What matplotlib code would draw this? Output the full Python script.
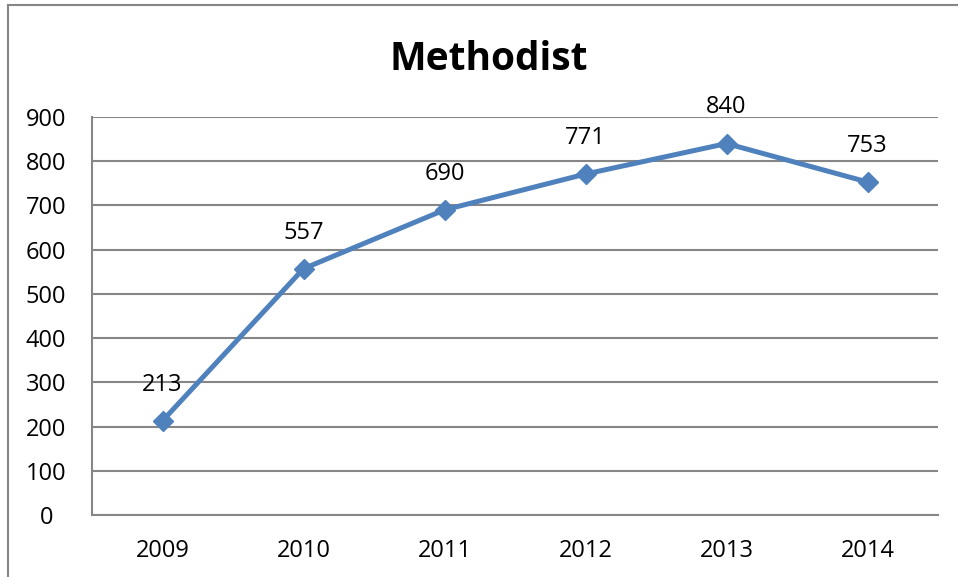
import matplotlib.pyplot as plt
from matplotlib.lines import Line2D

years = ["2009", "2010", "2011", "2012", "2013", "2014"]
values = [213, 557, 690, 771, 840, 753]
yticks = [0, 100, 200, 300, 400, 500, 600, 700, 800, 900]

plt.rcParams["font.family"] = ["Open Sans", "DejaVu Sans"]

fig = plt.figure(figsize=(9.58, 5.77), dpi=100)
ax = fig.add_axes([92 / 958, 1 - 515 / 577, (938 - 92) / 958, (515 - 117) / 577])

x = list(range(len(years)))
ax.plot(x, values, color="#4F81BD", linewidth=3.6, marker="D", markersize=10,
        zorder=3, clip_on=False)
for xi, v in zip(x, values):
    ax.annotate(str(v), (xi, v), xytext=(0, 26), textcoords="offset points",
                ha="center", va="center", fontsize=17, color="black")

ax.set_xlim(-0.5, len(years) - 0.5)
ax.set_ylim(0, 900)
ax.set_yticks(yticks)
ax.set_xticks(x)
ax.set_xticklabels(years)
ax.tick_params(axis="both", labelsize=17, length=0, colors="black")
ax.tick_params(axis="x", pad=17)
ax.tick_params(axis="y", pad=33)
for t in ax.get_yticklabels():
    t.set_horizontalalignment("center")
ax.grid(axis="y", color="#868686", linewidth=1.5)
ax.set_axisbelow(True)
for s in ["top", "right"]:
    ax.spines[s].set_visible(False)
for s in ["left", "bottom"]:
    ax.spines[s].set_color("#868686")
    ax.spines[s].set_linewidth(1.5)

fig.text(489 / 958, 1 - 60 / 577, "Methodist", ha="center", va="center",
         fontsize=28, fontweight="bold")

# outer chart border (only left and top edges visible)
fig.add_artist(Line2D([8 / 958, 8 / 958], [0, 1 - 5 / 577], transform=fig.transFigure,
                      color="#868686", linewidth=1.5))
fig.add_artist(Line2D([8 / 958, 1], [1 - 5 / 577, 1 - 5 / 577], transform=fig.transFigure,
                      color="#868686", linewidth=1.5))

plt.savefig("out.png", dpi=100)
